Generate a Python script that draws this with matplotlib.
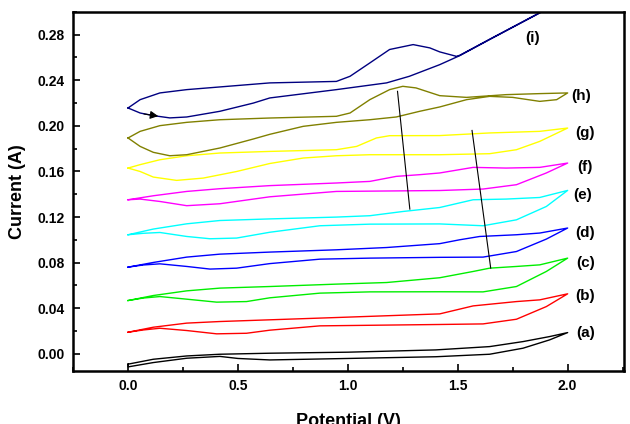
import matplotlib
matplotlib.use("Agg")
import matplotlib.pyplot as plt
from matplotlib.ticker import MultipleLocator

plt.rcParams['font.family'] = ['Liberation Sans', 'DejaVu Sans']

# 每条曲线: 电位 (V) 与电流 (A)，闭合回路（正扫 + 回扫）
pot_a = [0, 0.115, 0.267, 0.418, 0.645, 1.0, 1.4, 1.645, 1.797, 1.918, 2.0,
         1.918, 1.797, 1.645, 1.4, 1.0, 0.645, 0.5, 0.418, 0.267, 0.115, 0, 0]
cur_a = [-0.009, -0.0047, -0.0018, -0.0003, 0.0006, 0.0015, 0.0035, 0.0064, 0.0108, 0.0152, 0.0187,
         0.0123, 0.005, -0.0003, -0.0025, -0.004, -0.0053, -0.004, -0.0022, -0.0038, -0.0076, -0.0114, -0.009]

pot_b = [0, 0.115, 0.267, 0.418, 0.645, 0.948, 1.418, 1.57, 1.767, 1.873, 2.0,
         1.903, 1.767, 1.615, 1.418, 0.873, 0.645, 0.539, 0.403, 0.267, 0.145, 0.07, 0]
cur_b = [0.019, 0.0234, 0.027, 0.0284, 0.0299, 0.0319, 0.0351, 0.0421, 0.0459, 0.0474, 0.0527,
         0.0415, 0.0304, 0.0263, 0.0258, 0.0246, 0.0208, 0.0181, 0.0176, 0.0205, 0.0225, 0.021, 0.019]

pot_c = [0, 0.115, 0.267, 0.418, 0.645, 0.948, 1.176, 1.418, 1.57, 1.645, 1.767, 1.873, 2.0,
         1.903, 1.767, 1.615, 1.418, 1.1, 0.873, 0.645, 0.539, 0.403, 0.267, 0.145, 0.07, 0]
cur_c = [0.0468, 0.0512, 0.0553, 0.0577, 0.0591, 0.0612, 0.0626, 0.0668, 0.0723, 0.0752, 0.0767, 0.0781, 0.084,
         0.0723, 0.0591, 0.0544, 0.0545, 0.0544, 0.0533, 0.0492, 0.0459, 0.0454, 0.048, 0.0503, 0.049, 0.0468]

pot_d = [0, 0.115, 0.267, 0.418, 0.645, 0.948, 1.176, 1.418, 1.509, 1.6, 1.767, 1.873, 2.0,
         1.903, 1.767, 1.615, 1.418, 1.1, 0.873, 0.645, 0.494, 0.373, 0.267, 0.145, 0.07, 0]
cur_d = [0.0761, 0.0802, 0.0849, 0.0875, 0.0893, 0.0913, 0.0933, 0.0967, 0.1001, 0.103, 0.1045, 0.106, 0.1104,
         0.1007, 0.0898, 0.0849, 0.0847, 0.084, 0.0831, 0.0792, 0.0752, 0.0744, 0.0767, 0.079, 0.078, 0.0761]

pot_e = [0, 0.115, 0.267, 0.418, 0.645, 0.948, 1.1, 1.25, 1.418, 1.57, 1.72, 1.873, 2.0,
         1.903, 1.767, 1.615, 1.418, 1.1, 0.873, 0.645, 0.494, 0.373, 0.267, 0.145, 0.07, 0]
cur_e = [0.1045, 0.1095, 0.1141, 0.117, 0.1184, 0.12, 0.1212, 0.1249, 0.1284, 0.1352, 0.1358, 0.1372, 0.1434,
         0.1293, 0.1176, 0.1124, 0.114, 0.1138, 0.1124, 0.1067, 0.1016, 0.101, 0.103, 0.1065, 0.1058, 0.1045]

pot_f = [0, 0.115, 0.267, 0.418, 0.645, 0.948, 1.1, 1.22, 1.327, 1.418, 1.57, 1.72, 1.873, 2.0,
         1.903, 1.767, 1.615, 1.418, 0.948, 0.645, 0.418, 0.267, 0.145, 0.055, 0]
cur_f = [0.1352, 0.1387, 0.1425, 0.1449, 0.1476, 0.1499, 0.1513, 0.1557, 0.1572, 0.1587, 0.1636, 0.163, 0.1636, 0.1674,
         0.1587, 0.1484, 0.1446, 0.1433, 0.1425, 0.1378, 0.1317, 0.130, 0.1337, 0.1358, 0.1352]

pot_g = [0, 0.055, 0.145, 0.267, 0.418, 0.645, 0.948, 1.04, 1.13, 1.19, 1.418, 1.645, 1.873, 2.0,
         1.873, 1.767, 1.645, 1.418, 1.1, 0.948, 0.797, 0.645, 0.494, 0.342, 0.221, 0.115, 0.055, 0]
cur_g = [0.163, 0.166, 0.1703, 0.1738, 0.1762, 0.1776, 0.1791, 0.182, 0.1894, 0.1914, 0.1915, 0.1938, 0.1952, 0.1981,
         0.1864, 0.1791, 0.1756, 0.1747, 0.1747, 0.1738, 0.1718, 0.167, 0.16, 0.1542, 0.1522, 0.1551, 0.16, 0.163]

pot_h = [0, 0.055, 0.145, 0.267, 0.418, 0.645, 0.948, 1.01, 1.1, 1.19, 1.25, 1.31, 1.418, 1.54, 1.72, 1.873, 2.0,
         1.95, 1.873, 1.75, 1.645, 1.54, 1.418, 1.327, 1.22, 1.1, 0.948, 0.797, 0.645, 0.57, 0.418, 0.267,
         0.19, 0.115, 0.055, 0]
cur_h = [0.1894, 0.1952, 0.2002, 0.2031, 0.2054, 0.2069, 0.2084, 0.2113, 0.223, 0.2318, 0.2347, 0.2333, 0.2265, 0.225,
         0.2274, 0.2283, 0.2289,
         0.223, 0.2215, 0.225, 0.2259, 0.223, 0.2166, 0.2128, 0.2078, 0.2054, 0.2031, 0.1996, 0.1926, 0.1885, 0.1806,
         0.1747, 0.1738, 0.1768, 0.182, 0.1894]

pot_i = [0, 0.055, 0.115, 0.19, 0.267, 0.418, 0.57, 0.645, 0.948, 1.176, 1.28, 1.418, 1.509, 1.645, 1.873, 2.0,
         1.873, 1.645, 1.509, 1.494, 1.418, 1.373, 1.297, 1.19, 1.1, 1.01, 0.948, 0.645, 0.267, 0.145, 0.055, 0]
cur_i = [0.2157, 0.2113, 0.209, 0.207, 0.2078, 0.2128, 0.220, 0.2245, 0.2318, 0.2377, 0.2435, 0.2537, 0.2616, 0.2757,
         0.299, 0.316,
         0.2993, 0.276, 0.2619, 0.261, 0.2649, 0.2684, 0.2713, 0.267, 0.2552, 0.2435, 0.239, 0.2377, 0.2318, 0.2289,
         0.223, 0.2157]

labels = ["(a)", "(b)", "(c)", "(d)", "(e)", "(f)", "(g)", "(h)", "(i)"]
colors = ["black", "#ff0000", "#00ee00", "#0000ff", "#00ffff", "#ff00ff", "#ffff00", "#808000", "#000080"]
label_x = [2.08, 2.08, 2.08, 2.08, 2.07, 2.08, 2.08, 2.06, 1.84]
label_y = [0.0185, 0.051, 0.080, 0.106, 0.139, 0.164, 0.194, 0.226, 0.277]

# 两条辅助斜线
guide1_x = [1.226, 1.282]
guide1_y = [0.2303, 0.127]
guide2_x = [1.565, 1.65]
guide2_y = [0.196, 0.0752]

pots = [pot_a, pot_b, pot_c, pot_d, pot_e, pot_f, pot_g, pot_h, pot_i]
curs = [cur_a, cur_b, cur_c, cur_d, cur_e, cur_f, cur_g, cur_h, cur_i]

fig = plt.figure(figsize=(6.3, 4.24), dpi=100)
ax = fig.add_axes([0.116, 0.125, 0.874, 0.847])

for p, c, col in zip(pots, curs, colors):
    ax.plot(p, c, color=col, linewidth=1.0)

ax.plot(guide1_x, guide1_y, color="black", linewidth=0.8)
ax.plot(guide2_x, guide2_y, color="black", linewidth=0.8)

# 扫描方向箭头
ax.annotate("", xy=(0.15, 0.2082), xytext=(0.06, 0.2108),
            arrowprops=dict(arrowstyle="-|>", color="black", lw=0.8, mutation_scale=12))

for lab, lx, ly in zip(labels, label_x, label_y):
    ax.text(lx, ly, lab, fontsize=11, fontweight="bold", ha="center", va="center")

ax.set_xlim(-0.25, 2.255)
ax.set_ylim(-0.015, 0.30)
ax.xaxis.set_major_locator(MultipleLocator(0.5))
ax.xaxis.set_minor_locator(MultipleLocator(0.25))
ax.yaxis.set_major_locator(MultipleLocator(0.04))
ax.yaxis.set_minor_locator(MultipleLocator(0.02))
ax.set_xticks([0.0, 0.5, 1.0, 1.5, 2.0])
ax.set_xticklabels(["0.0", "0.5", "1.0", "1.5", "2.0"])
yt = [0.0, 0.04, 0.08, 0.12, 0.16, 0.20, 0.24, 0.28]
ax.set_yticks(yt)
ax.set_yticklabels([f"{v:.2f}" for v in yt])

ax.tick_params(axis="both", which="major", direction="in", length=5, width=1.2,
               labelsize=10, pad=6, top=False, right=False)
ax.tick_params(axis="both", which="minor", direction="in", length=3, width=1.2,
               top=False, right=False)
for t in ax.get_xticklabels() + ax.get_yticklabels():
    t.set_fontweight("bold")
for s in ax.spines.values():
    s.set_linewidth(1.8)

ax.set_xlabel("Potential (V)", fontsize=13, fontweight="bold", labelpad=14)
ax.set_ylabel("Current (A)", fontsize=13, fontweight="bold", labelpad=8)

fig.savefig("out.png", dpi=100)
